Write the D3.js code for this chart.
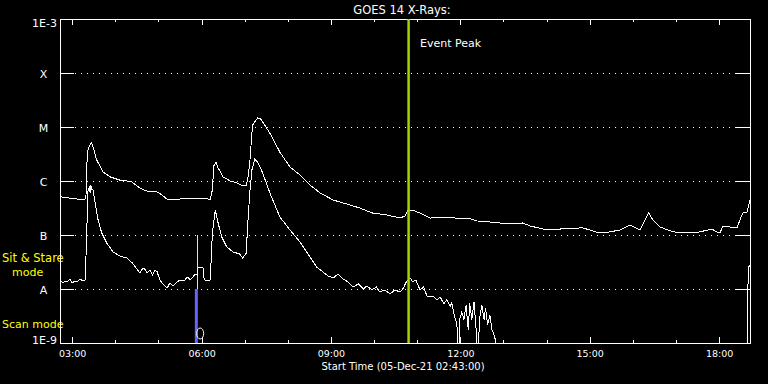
<!DOCTYPE html>
<html>
<head>
<meta charset="utf-8">
<script src="https://d3js.org/d3.v7.min.js"></script>
<style>
  body { margin: 0; background: #000; }
  svg { display: block; }
  text { font-family: "DejaVu Sans", sans-serif; fill: #fff; }
</style>
</head>
<body>
<script>
// GOES 14 long channel (1-8 A), times on 05-Dec-21
var longTimes = ["02:43","02:57","03:15","03:19","03:21","03:25","03:27","03:29","03:34","03:43","03:53","04:06","04:16","04:23","04:34","04:44","04:58","05:05","05:12","05:26","05:48","05:58","06:12","06:15","06:17","06:20","06:23","06:30","06:40","06:49","06:57","07:02","07:04","07:07","07:10","07:11","07:16","07:18","07:22","07:25","07:35","07:49","08:03","08:17","08:31","08:45","09:03","09:22","09:40","09:58","10:18","10:36","10:43","10:47","10:53","11:04","11:18","11:32","11:46","11:59","12:11","12:23","12:41","12:55","13:13","13:27","13:37","13:55","14:09","14:19","14:46","14:51","15:04","15:14","15:28","15:42","15:56","16:10","16:17","16:22","16:28","16:38","16:52","17:05","17:19","17:33","17:50","17:57","18:01","18:05","18:15","18:25","18:29","18:33","18:39","18:43"];
var longFlux = [5.1e-7,4.8e-7,4.5e-7,4.7e-7,3.5e-6,4.8e-6,5.1e-6,4.3e-6,2.45e-6,1.47e-6,1.19e-6,1.04e-6,1.0e-6,9.6e-7,7.4e-7,6.5e-7,6.3e-7,5.5e-7,4.6e-7,4.6e-7,4.8e-7,4.8e-7,4.6e-7,6.8e-7,1.9e-6,2.25e-6,1.74e-6,1.19e-6,1.0e-6,9.2e-7,8.1e-7,8.1e-7,1.04e-6,2.15e-6,7.7e-6,1.09e-5,1.35e-5,1.47e-5,1.41e-5,1.24e-5,7.7e-6,3.4e-6,1.82e-6,1.29e-6,8.4e-7,6.0e-7,4.45e-7,3.75e-7,3.16e-7,2.55e-7,2.35e-7,2.06e-7,2.25e-7,2.9e-7,2.9e-7,2.55e-7,2.06e-7,2.15e-7,2.15e-7,1.98e-7,2.06e-7,1.82e-7,1.74e-7,1.67e-7,1.6e-7,1.67e-7,1.47e-7,1.29e-7,1.24e-7,1.29e-7,1.35e-7,1.35e-7,1.19e-7,1.09e-7,1.14e-7,1.24e-7,1.53e-7,1.24e-7,1.9e-7,2.55e-7,1.9e-7,1.41e-7,1.19e-7,1.09e-7,1.09e-7,1.14e-7,1.29e-7,1.14e-7,1.09e-7,1.41e-7,1.41e-7,1.35e-7,1.9e-7,2.55e-7,2.66e-7,4.45e-7];

// short channel (0.5-4 A); 5e-10 = below plot floor
var shortTimes = ["02:43","02:47","02:50","02:53","02:57","03:00","03:04","03:07","03:11","03:15","03:18","03:19","03:22","03:24","03:25","03:26","03:27","03:29","03:32","03:36","03:41","03:48","03:57","04:06","04:16","04:24","04:34","04:37","04:40","04:44","04:48","04:52","04:55","04:58","05:02","05:05","05:08","05:12","05:16","05:20","05:23","05:26","05:30","05:36","05:40","05:44","05:47","05:51","05:54","05:55","06:02","06:03","06:05","06:09","06:12","06:15","06:19","06:23","06:28","06:35","06:44","06:53","06:57","07:02","07:04","07:07","07:10","07:14","07:18","07:25","07:35","07:49","08:03","08:17","08:31","08:40","08:49","08:56","09:03","09:10","09:17","09:24","09:31","09:38","09:45","09:50","09:57","10:03","10:08","10:15","10:22","10:29","10:36","10:41","10:44","10:47","10:50","10:54","10:58","11:04","11:09","11:14","11:22","11:27","11:32","11:37","11:41","11:46","11:48","11:52","11:55","11:58","11:59","12:02","12:05","12:08","12:11","12:13","12:16","12:19","12:22","12:24","12:27","12:30","12:33","12:35","12:38","12:41","12:44","12:47","12:49","12:51","18:38","18:39","18:40","18:41","18:43"];
var shortFlux = [1.47e-8,1.3e-8,1.4e-8,1.35e-8,1.53e-8,1.3e-8,1.41e-8,1.35e-8,1.53e-8,1.41e-8,1.47e-8,3.4e-8,6.8e-7,7.7e-7,6.0e-7,8.4e-7,7.0e-7,6.8e-7,3.9e-7,1.9e-7,1.09e-7,7.1e-8,4.84e-8,4.1e-8,3.75e-8,3.0e-8,1.98e-8,2.3e-8,2.45e-8,1.98e-8,2.25e-8,1.82e-8,2.2e-8,2.1e-8,1.47e-8,1.3e-8,1.19e-8,1.04e-8,1.3e-8,1.14e-8,1.25e-8,1.35e-8,1.47e-8,1.41e-8,1.67e-8,1.5e-8,1.6e-8,1.9e-8,1.82e-8,2.45e-8,2.45e-8,1.6e-8,1.47e-8,1.41e-8,1.47e-8,1.09e-7,2.9e-7,1.67e-7,9.2e-8,6.0e-8,4.84e-8,4.45e-8,3.75e-8,4.6e-8,1.41e-7,6.0e-7,1.6e-6,2.55e-6,2.25e-6,1.41e-6,6.0e-7,2.15e-7,1.24e-7,7.4e-8,3.9e-8,2.55e-8,2.06e-8,1.74e-8,1.6e-8,1.9e-8,1.53e-8,1.35e-8,1.09e-8,1.24e-8,1.0e-8,1.14e-8,9.6e-9,1.09e-8,8.8e-9,9.6e-9,8.1e-9,9.6e-9,8.8e-9,1.04e-8,1.3e-8,1.47e-8,1.6e-8,1.35e-8,1.47e-8,9.6e-9,1.09e-8,7.1e-9,7.4e-9,6.3e-9,7.1e-9,5.3e-9,6.3e-9,4.8e-9,5.5e-9,3.0e-9,2.35e-9,5e-10,2.7e-9,3.75e-9,2.7e-9,5.05e-9,1.74e-9,5.5e-9,2.7e-9,5.8e-9,1.74e-9,5e-10,2.9e-9,5.05e-9,2.7e-9,4.45e-9,2.15e-9,3.3e-9,1.74e-9,1.41e-9,1.1e-9,5e-10,5e-10,5e-10,1.0e-8,2.55e-8,2.7e-8];

var yTickValues = [1e-9, 1e-8, 1e-7, 1e-6, 1e-5, 1e-4, 1e-3];
var yTickLabels = ["1E-9", "A", "B", "C", "M", "X", "1E-3"];
var xTickLabels = ["03:00", "06:00", "09:00", "12:00", "15:00", "18:00"];
var startTime = "02:43", endTime = "18:43";
var eventPeak = "10:48";
var scanMark = "05:52", stareMark = "05:54";
var symbolTime = "05:58", symbolFlux = 1.5e-9;

var margin = {top: 19, right: 18, bottom: 41, left: 60},
    width = 768 - margin.left - margin.right,
    height = 384 - margin.top - margin.bottom;

var parseTime = d3.timeParse("%Y-%m-%d %H:%M");
function t(s) { return parseTime("2021-12-05 " + s); }

var svg = d3.select("body").append("svg")
    .attr("width", 768)
    .attr("height", 384)
    .style("background", "#000");

var x = d3.scaleTime()
    .domain([t(startTime), t(endTime)])
    .range([margin.left, margin.left + width]);
var y = d3.scaleLog()
    .domain([1e-9, 1e-3])
    .range([margin.top + height, margin.top]);

svg.append("defs").append("clipPath").attr("id", "plot")
  .append("rect")
    .attr("x", margin.left).attr("y", margin.top)
    .attr("width", width + 1).attr("height", height + 1);

// y gridlines + inside ticks
yTickValues.slice(1, -1).forEach(function(v) {
  var yy = Math.round(y(v)) + 0.5;
  svg.append("line").attr("x1", 60).attr("x2", 74).attr("y1", yy).attr("y2", yy)
      .attr("stroke", "#fff").attr("shape-rendering", "crispEdges");
  svg.append("line").attr("x1", 736).attr("x2", 751).attr("y1", yy).attr("y2", yy)
      .attr("stroke", "#fff").attr("shape-rendering", "crispEdges");
  svg.append("line").attr("x1", 75).attr("x2", 736).attr("y1", yy).attr("y2", yy)
      .attr("stroke", "#fff").attr("stroke-dasharray", "1,5")
      .attr("shape-rendering", "crispEdges");
});

yTickValues.forEach(function(v, i) {
  var lab = yTickLabels[i];
  var big = lab.indexOf("1E") === 0;
  svg.append("text")
      .attr("x", big ? 57 : 43.5)
      .attr("y", big ? (v === 1e-3 ? y(v) + 8 : y(v) + 0.5) : y(v) + 4.5)
      .attr("text-anchor", big ? "end" : "middle")
      .attr("font-size", "11px")
      .text(lab);
});

// mode labels
svg.append("text").attr("x", 2).attr("y", 262).attr("font-size", "11.5px")
    .style("fill", "#ffff00").text("Sit & Stare");
svg.append("text").attr("x", 12).attr("y", 276).attr("font-size", "11px")
    .style("fill", "#ffff00").text("mode");
svg.append("text").attr("x", 2).attr("y", 328).attr("font-size", "11px")
    .style("fill", "#ffff00").text("Scan mode");

// x axes (ticks inside the frame)
var major = xTickLabels.map(t);
var minor = x.ticks(d3.timeHour.every(1));

function styleAxis(g) {
  g.select(".domain").remove();
  g.selectAll("line").attr("stroke", "#fff").attr("shape-rendering", "crispEdges");
  g.selectAll("text").attr("fill", "#fff").style("font-family", "DejaVu Sans")
      .style("font-size", "9.5px");
}

svg.append("g").attr("transform", "translate(0," + (margin.top + height) + ")")
    .call(d3.axisBottom(x).tickValues(minor).tickSizeInner(-3).tickSizeOuter(0).tickFormat(""))
    .call(styleAxis);
svg.append("g").attr("transform", "translate(0," + (margin.top + height) + ")")
    .call(d3.axisBottom(x).tickValues(major).tickSizeInner(-6).tickSizeOuter(0)
      .tickPadding(7).tickFormat(d3.timeFormat("%H:%M")))
    .call(styleAxis);
svg.append("g").attr("transform", "translate(0," + margin.top + ")")
    .call(d3.axisTop(x).tickValues(minor).tickSizeInner(-3).tickSizeOuter(0).tickFormat(""))
    .call(styleAxis);
svg.append("g").attr("transform", "translate(0," + margin.top + ")")
    .call(d3.axisTop(x).tickValues(major).tickSizeInner(-6).tickSizeOuter(0).tickFormat(""))
    .call(styleAxis);

// frame
svg.append("rect")
    .attr("x", margin.left + 0.5).attr("y", margin.top + 0.5)
    .attr("width", width).attr("height", height)
    .attr("fill", "none").attr("stroke", "#fff")
    .attr("shape-rendering", "crispEdges");

// mode markers
svg.append("rect")
    .attr("x", x(t(scanMark)) - 1)
    .attr("y", y(1e-8))
    .attr("width", 3)
    .attr("height", y(1e-9) - y(1e-8))
    .attr("fill", "#6464ff");
svg.append("line")
    .attr("x1", Math.round(x(t(stareMark))) + 0.5).attr("x2", Math.round(x(t(stareMark))) + 0.5)
    .attr("y1", y(1e-7)).attr("y2", y(1e-8))
    .attr("stroke", "#ffff00").attr("shape-rendering", "crispEdges");

var line = d3.line()
    .x(function(d) { return x(d.time); })
    .y(function(d) { return y(d.flux); });

var longData = longTimes.map(function(s, i) { return {time: t(s), flux: longFlux[i]}; });
var shortData = shortTimes.map(function(s, i) { return {time: t(s), flux: shortFlux[i]}; });

[longData, shortData].forEach(function(data) {
  svg.append("path")
      .datum(data)
      .attr("clip-path", "url(#plot)")
      .attr("fill", "none")
      .attr("stroke", "#fff")
      .attr("stroke-width", 1)
      .attr("shape-rendering", "crispEdges")
      .attr("d", line);
});

svg.append("ellipse")
    .attr("cx", x(t(symbolTime)))
    .attr("cy", y(symbolFlux))
    .attr("rx", 3.5).attr("ry", 5.5)
    .attr("fill", "none").attr("stroke", "#fff");

// event peak
svg.append("line")
    .attr("x1", x(t(eventPeak))).attr("x2", x(t(eventPeak)))
    .attr("y1", margin.top).attr("y2", margin.top + height)
    .attr("stroke", "#a4d400").attr("stroke-width", 2.5);
svg.append("text")
    .attr("x", 420).attr("y", 47)
    .attr("font-size", "11px")
    .text("Event Peak");

svg.append("text")
    .attr("x", 402).attr("y", 14)
    .attr("text-anchor", "middle")
    .attr("font-size", "11.5px")
    .text("GOES 14 X-Rays:");

svg.append("text")
    .attr("x", 403).attr("y", 370)
    .attr("text-anchor", "middle")
    .attr("font-size", "10px")
    .text("Start Time (05-Dec-21 02:43:00)");
</script>
</body>
</html>
